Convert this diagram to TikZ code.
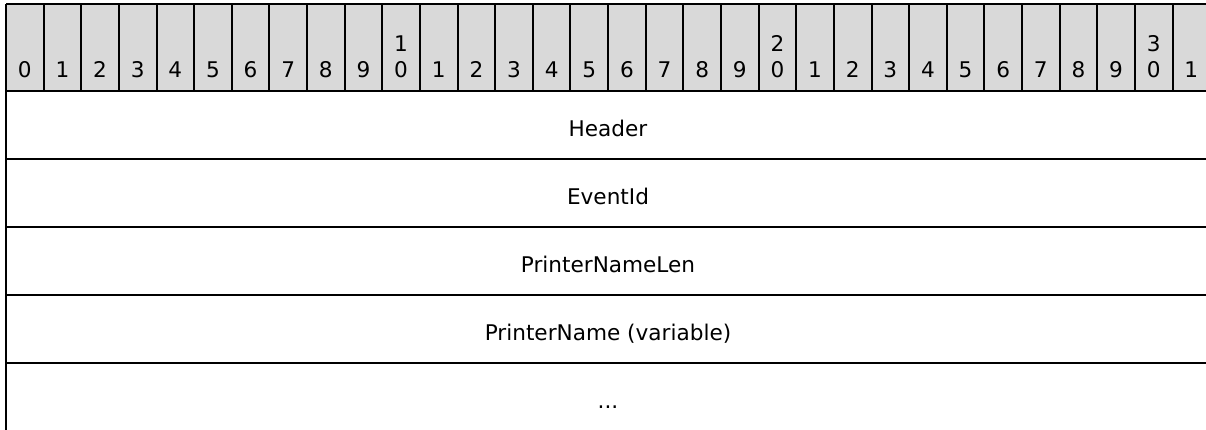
\documentclass[tikz,border=0pt]{standalone}
\usepackage{fontspec}
\setmainfont{DejaVu Sans}
\definecolor{hdrgray}{HTML}{D9D9D9}
\begin{document}
\begin{tikzpicture}[x=0.75pt,y=-0.75pt,
  grid/.style={draw=black,line width=1.5pt},
  lbl/.style={anchor=base,inner sep=0pt,font=\fontsize{16.2}{19.3}\selectfont}]
\useasboundingbox (0,0) rectangle (1206,429);
\clip (0,0) rectangle (1206,429);
% header background
\fill[hdrgray] (6,4) rectangle (1210.2,90.7);
% bit numbers
\foreach \i in {0,...,31}{
  \pgfmathsetmacro{\cx}{6+(\i+0.5)*37.63}
  \pgfmathtruncatemacro{\u}{mod(\i,10)}
  \pgfmathtruncatemacro{\t}{div(\i,10)}
  \ifnum\i<10
    \node[lbl] (b\i) at (\cx,77) {\i};
  \else
    \ifnum\u=0
      \node[lbl] (bt\i) at (\cx,51.5) {\t};
      \node[lbl] (b\i) at (\cx,77) {\u};
    \else
      \node[lbl] (b\i) at (\cx,77) {\u};
    \fi
  \fi
}
% vertical separators in header
\foreach \i in {0,...,32}{
  \draw[grid] ({6+\i*37.63},4) -- ({6+\i*37.63},90.7);
}
% horizontal lines
\foreach \y in {4,90.7,159,227,295,363,431}{
  \draw[grid] (6,\y) -- (1210.2,\y);
}
% left border
\draw[grid] (6,4) -- (6,431);
% row labels
\node[lbl] (r1) at (608,136.5) {Header};
\node[lbl] (r2) at (608,204.5) {EventId};
\node[lbl] (r3) at (608,272.5) {PrinterNameLen};
\node[lbl] (r4) at (608,340) {PrinterName (variable)};
\node[lbl] (r5) at (608,408) {...};
\end{tikzpicture}
\end{document}
